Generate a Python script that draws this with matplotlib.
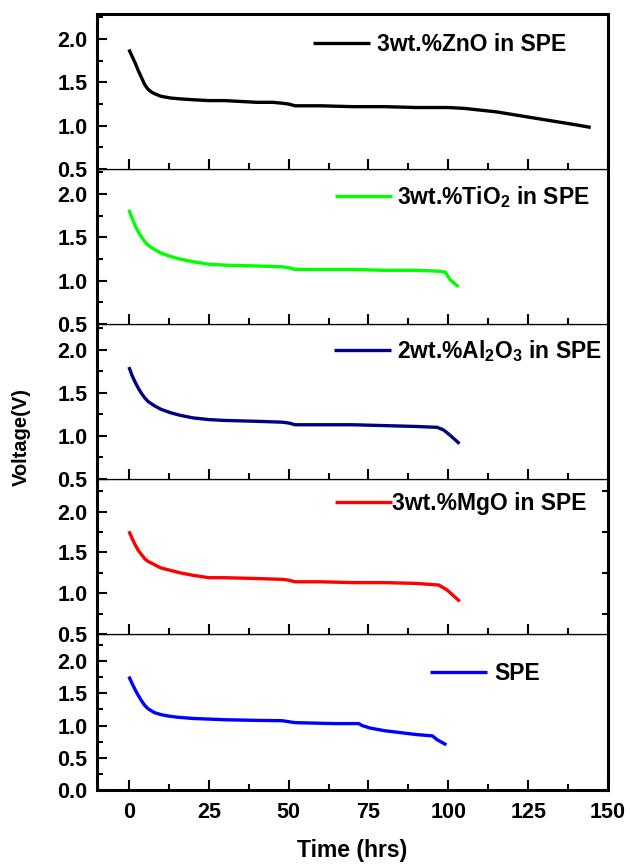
import matplotlib
matplotlib.use("Agg")
import matplotlib.pyplot as plt
from matplotlib.ticker import MultipleLocator

plt.rcParams['font.family'] = ['Liberation Sans', 'DejaVu Sans']
plt.rcParams['font.weight'] = 'bold'
plt.rcParams['mathtext.fontset'] = 'custom'
plt.rcParams['mathtext.rm'] = 'Liberation Sans:bold'
plt.rcParams['mathtext.it'] = 'Liberation Sans:bold'
plt.rcParams['mathtext.bf'] = 'Liberation Sans:bold'
plt.rcParams['mathtext.default'] = 'rm'

# ---- data ----
t_zno = [0, 1, 2, 3, 4, 5, 6, 7, 8, 10, 13, 16, 20, 25, 30, 35, 40, 45, 48, 50, 52, 60, 70, 80, 90, 100, 105, 110, 115, 120, 125, 130, 135, 140, 144.6]
v_zno = [1.88, 1.80, 1.72, 1.63, 1.55, 1.47, 1.42, 1.39, 1.37, 1.34, 1.32, 1.31, 1.30, 1.29, 1.29, 1.28, 1.27, 1.27, 1.26, 1.25, 1.23, 1.23, 1.22, 1.22, 1.21, 1.21, 1.20, 1.18, 1.16, 1.13, 1.10, 1.07, 1.04, 1.01, 0.98]

t_tio2 = [0, 1, 2, 3, 4, 5, 6, 8, 10, 13, 16, 20, 25, 30, 40, 48, 50, 52, 60, 70, 80, 90, 97, 99, 100.6, 103.2]
v_tio2 = [1.82, 1.72, 1.63, 1.56, 1.50, 1.45, 1.41, 1.36, 1.32, 1.28, 1.25, 1.22, 1.19, 1.18, 1.17, 1.16, 1.15, 1.13, 1.13, 1.13, 1.12, 1.12, 1.11, 1.10, 1.01, 0.93]

t_al2o3 = [0, 1, 2, 3, 4, 5, 6, 8, 10, 13, 16, 20, 25, 30, 40, 48, 50, 52, 60, 70, 80, 90, 96.5, 98.5, 100.5, 103.5]
v_al2o3 = [1.80, 1.70, 1.62, 1.55, 1.49, 1.44, 1.40, 1.35, 1.31, 1.27, 1.24, 1.21, 1.19, 1.18, 1.17, 1.16, 1.15, 1.13, 1.13, 1.13, 1.12, 1.11, 1.10, 1.07, 1.01, 0.91]

t_mgo = [0, 1, 2, 3, 4, 5, 6, 8, 10, 13, 16, 20, 25, 30, 40, 48, 50, 52, 60, 70, 80, 90, 97, 99.6, 103.6]
v_mgo = [1.76, 1.67, 1.59, 1.52, 1.47, 1.42, 1.39, 1.35, 1.31, 1.28, 1.25, 1.22, 1.19, 1.19, 1.18, 1.17, 1.16, 1.14, 1.14, 1.13, 1.13, 1.12, 1.10, 1.04, 0.90]

t_spe = [0, 1, 2, 3, 4, 5, 6, 7, 8, 10, 12, 15, 20, 25, 30, 40, 48, 50, 52, 60, 65, 72, 73, 75.6, 80, 85, 90, 95, 96.5, 99.4]
v_spe = [1.76, 1.65, 1.55, 1.46, 1.38, 1.31, 1.26, 1.23, 1.20, 1.17, 1.15, 1.13, 1.11, 1.10, 1.09, 1.08, 1.075, 1.06, 1.045, 1.035, 1.03, 1.03, 1.00, 0.96, 0.92, 0.89, 0.86, 0.84, 0.78, 0.70]

labels = ['3wt.%ZnO in SPE', r'3wt.%TiO$_2$ in SPE', r'2wt.%Al$_2$O$_3$ in SPE',
          '3wt.%MgO in SPE', 'SPE']
colors = ['#000000', '#00ff00', '#000080', '#ff0000', '#0000ff']
series_t = [t_zno, t_tio2, t_al2o3, t_mgo, t_spe]
series_v = [v_zno, v_tio2, v_al2o3, v_mgo, v_spe]
ylims = [(0.5, 2.29), (0.5, 2.29), (0.5, 2.30), (0.5, 2.40), (0.0, 2.42)]
x_ticks = [0, 25, 50, 75, 100, 125, 150]
y_ticks_upper = [0.5, 1.0, 1.5, 2.0]
y_ticks_lower = [0.0, 0.5, 1.0, 1.5, 2.0]

# ---- layout ----
W, H = 630, 865
fig = plt.figure(figsize=(W / 100, H / 100), dpi=100)
left_px, right_px = 97, 608
edges = [14, 169, 324, 479, 634, 790]
leg_pos = [(0.423, 0.806), (0.466, 0.817), (0.464, 0.826), (0.466, 0.845), (0.652, 0.744)]
leg_pad = [0.28, 0.22, 0.24, -0.02, 0.28]

thick = 2.2
thin = 0.9
axes = []
for i in range(5):
    top, bot = edges[i], edges[i + 1]
    ax = fig.add_axes([left_px / W, 1 - bot / H, (right_px - left_px) / W, (bot - top) / H])
    axes.append(ax)
    ax.plot(series_t[i], series_v[i], color=colors[i], lw=2.4, label=labels[i],
            solid_capstyle='butt', solid_joinstyle='round')
    ax.set_xlim(-10, 150)
    ax.set_ylim(*ylims[i])
    ax.set_xticks(x_ticks)
    ax.xaxis.set_minor_locator(MultipleLocator(12.5))
    ax.set_yticks(y_ticks_upper if i < 4 else y_ticks_lower)
    ax.yaxis.set_minor_locator(MultipleLocator(0.25))
    ax.tick_params(axis='both', which='major', direction='in', length=7, width=1.5,
                   labelsize=15.5, top=False, right=False)
    ax.tick_params(axis='both', which='minor', direction='in', length=4, width=1.5,
                   top=False, right=False)
    ax.tick_params(axis='y', which='major', pad=7)
    ax.tick_params(axis='x', which='major', pad=9)
    for lab in ax.get_xticklabels() + ax.get_yticklabels():
        lab.set_fontweight('bold')
    ax.spines['left'].set_linewidth(thick)
    ax.spines['right'].set_linewidth(thick)
    ax.spines['top'].set_linewidth(thick if i == 0 else thin)
    ax.spines['bottom'].set_linewidth(thick if i == 4 else thin)
    if i < 4:
        ax.tick_params(axis='x', labelbottom=False)
    leg = ax.legend(loc='center left', bbox_to_anchor=leg_pos[i], frameon=False,
                    borderpad=0, borderaxespad=0, handlelength=2.5,
                    handletextpad=leg_pad[i], prop={'size': 16.5, 'weight': 'bold'})
    for ln in leg.get_lines():
        ln.set_linewidth(2.4)
    ax.set_zorder(5 - i)

# right-side minor ticks visible in the MgO panel
axes[3].tick_params(axis='y', which='minor', right=True, length=4)

axes[4].set_xlabel('Time (hrs)', fontsize=16.5, fontweight='bold', labelpad=11)
fig.text(21 / W, 1 - 437 / H, 'Voltage(V)', rotation=90, ha='center', va='center',
         fontsize=14.5, fontweight='bold')

fig.savefig('out.png', dpi=100)
